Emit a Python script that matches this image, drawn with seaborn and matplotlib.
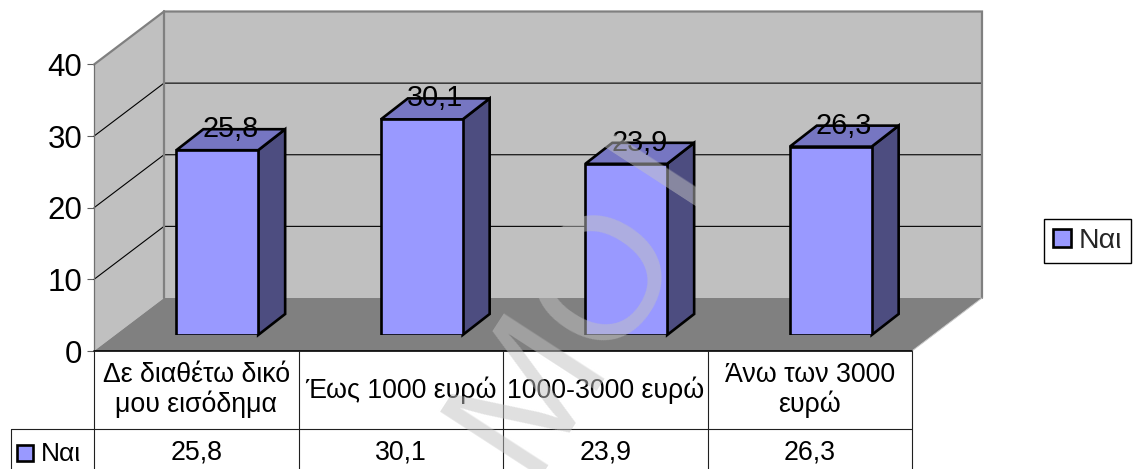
import matplotlib
matplotlib.use("Agg")
import matplotlib.pyplot as plt
from matplotlib.patches import Patch, Polygon, Rectangle
from matplotlib.transforms import Affine2D
import pandas as pd
import seaborn as sns

# Survey answers per income band
categories = ["Δε διαθέτω δικό\nμου εισόδημα", "Έως 1000 ευρώ", "1000-3000 ευρώ", "Άνω των 3000\nευρώ"]
values = [25.8, 30.1, 23.9, 26.3]
series_name = "Ναι"
y_ticks = [0, 10, 20, 30, 40]

W, H = 1134, 469
FACE, TOP, SIDE = "#9999ff", "#7676c2", "#4d4d80"
WALL, FLOOR, EDGE = "#c0c0c0", "#808080", "#808080"

sns.set_theme(style="white")
plt.rcParams["font.family"] = ["Liberation Sans", "DejaVu Sans"]

fig = plt.figure(figsize=(W / 100, H / 100), dpi=100, facecolor="white")
px = Affine2D().scale(1, -1).translate(0, H)


def axes_at(left, right, top, bottom, **kw):
    return fig.add_axes([left / W, 1 - bottom / H, (right - left) / W, (bottom - top) / H], **kw)


# Front plane of the box: categories along x, values along y
box = axes_at(94, 912, 64.5, 351, zorder=1)
box.set_xlim(0, 4)
box.set_ylim(0, 40)
box.patch.set_visible(False)
for s in box.spines.values():
    s.set_visible(False)

px_x = 818 / 4
px_y = 286.5 / 40
depth_x, depth_y = 70 / px_x, 53 / px_y

box.add_patch(Rectangle((depth_x, depth_y), 4, 40, fc=WALL, ec="none", clip_on=False, zorder=0.5))
box.add_patch(Polygon([(0, 0), (depth_x, depth_y), (depth_x, 40 + depth_y), (0, 40)],
                      fc=WALL, ec="none", clip_on=False, zorder=0.5))
box.add_patch(Polygon([(0, 0), (4, 0), (4 + depth_x, depth_y), (depth_x, depth_y)],
                      fc=FLOOR, ec="none", clip_on=False, zorder=0.6))

for t in y_ticks[1:-1]:
    box.plot([0, depth_x, 4 + depth_x], [t, t + depth_y, t + depth_y], color="black", lw=0.8,
             clip_on=False, zorder=0.7, solid_joinstyle="miter")
box.plot([0, depth_x, 4 + depth_x, 4 + depth_x], [40, 40 + depth_y, 40 + depth_y, depth_y],
         color=EDGE, lw=1.6, clip_on=False, zorder=0.8, solid_joinstyle="miter")
box.plot([depth_x, depth_x], [depth_y, 40 + depth_y], color=EDGE, lw=1.6, clip_on=False, zorder=0.8)
box.plot([0, 0], [0, 40], color="#707070", lw=0.9, clip_on=False, zorder=0.8)
box.plot([4, 4 + depth_x], [0, depth_y], color="#c8c8c8", lw=0.7, clip_on=False, zorder=0.8)

box.set_xticks([])
box.set_yticks(y_ticks)
box.tick_params(axis="y", left=True, length=5, width=0.8, color="#606060", pad=3.5, labelsize=22.5, labelcolor="black")

# Data table under the box
row_1 = -78 / px_y
row_2 = -118 / px_y
box.plot([0, 4], [0, 0], color="black", lw=1.2, clip_on=False, zorder=3)
for i in range(5):
    box.plot([i, i], [0, row_2], color="#202020", lw=0.8, clip_on=False, zorder=3)
box.plot([-83 / px_x, 4], [row_1, row_1], color="#202020", lw=0.8, clip_on=False, zorder=3)
box.plot([-83 / px_x, -83 / px_x], [row_1, row_2], color="#202020", lw=0.8, clip_on=False, zorder=3)
for i, (c, v) in enumerate(zip(categories, values)):
    box.text(i + 0.5, row_1 / 2, c, ha="center", va="center", fontsize=19.3, color="black",
             linespacing=1.08, clip_on=False)
    box.text(i + 0.5, -101 / px_y, f"{v:.1f}".replace(".", ","), ha="center", va="center",
             fontsize=19.3, color="black", clip_on=False)

# Bars stand inside the box, one plane behind the table edge
front = axes_at(94 + 21, 912 + 21, 64.5 - 16, 351 - 16, zorder=2)
data = pd.DataFrame({"band": categories, "value": values})
sns.barplot(data=data, x="band", y="value", color=FACE, saturation=1, width=0.4,
            edgecolor="black", linewidth=1.9, ax=front, zorder=2)
front.set_xlim(-0.5, 3.5)
front.set_ylim(0, 40)
front.axis("off")

bar_dx, bar_dy = 27 / px_x, 21 / px_y
half = 0.2
for i, v in enumerate(values):
    r = i + half
    l = i - half
    front.add_patch(Polygon([(r, 0), (r + bar_dx, bar_dy), (r + bar_dx, v + bar_dy), (r, v)],
                            fc=SIDE, ec="black", lw=1.9, clip_on=False, zorder=1.5, joinstyle="miter"))
    front.add_patch(Polygon([(l, v), (l + bar_dx, v + bar_dy), (r + bar_dx, v + bar_dy), (r, v)],
                            fc=TOP, ec="black", lw=1.9, clip_on=False, zorder=1.5, joinstyle="miter"))
    front.annotate(f"{v:.1f}".replace(".", ","), xy=(i, v), xytext=(13 * 0.72, 13 * 0.72),
                   textcoords="offset points", ha="center", va="baseline", fontsize=20.8,
                   color="black", annotation_clip=False, zorder=5)

# Side legend and the matching key in the table
handle = Patch(fc=FACE, ec="black", lw=1.9)
fig.legend(handles=[handle], labels=[series_name], loc="upper left",
           bbox_to_anchor=(1044 / W, 1 - 219 / H), fontsize=20.5, frameon=True, fancybox=False,
           edgecolor="black", framealpha=1, borderpad=0.32, borderaxespad=0,
           handlelength=0.62, handleheight=0.62, handletextpad=0.28)
fig.add_artist(Rectangle((17, 445), 16, 16, fc=FACE, ec="black", lw=1.9, transform=px))
fig.text(41, 461, series_name, transform=px, fontsize=19, color="black", ha="left", va="baseline")

# Diagonal stamp over the whole figure
fig.text(566, 334, "MO", transform=px, fontsize=126, color="#c2c2c2", alpha=0.5, rotation=57,
         rotation_mode="anchor", ha="center", va="center", zorder=10)
fig.text(665, 167, "I", transform=px, fontsize=126, color="#c2c2c2", alpha=0.5, rotation=57,
         rotation_mode="anchor", ha="center", va="center", zorder=10)

fig.savefig("out.png", dpi=100)
